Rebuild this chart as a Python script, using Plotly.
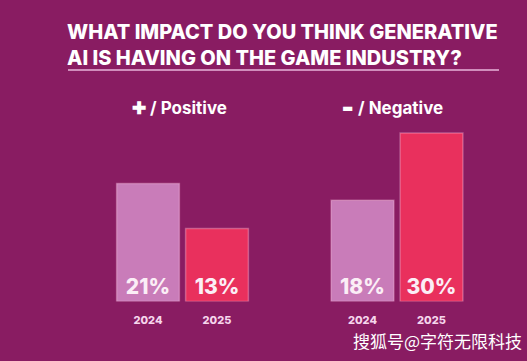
import plotly.graph_objects as go
from plotly.subplots import make_subplots

years = ["2024", "2025"]
positive = [21, 13]
negative = [18, 30]
title_lines = ["WHAT IMPACT DO YOU THINK GENERATIVE", "AI IS HAVING ON THE GAME INDUSTRY?"]
group_icons = ["✚", "▬"]
group_labels = ["/ Positive", "/ Negative"]
watermark = "搜狐号@字符无限科技"

W, H = 527, 361
BG = "#891c62"
C2024 = "#c97cb9"
C2025 = "#e9305d"
FONT = "Inter"

fig = make_subplots(rows=1, cols=2)

def px_x(p):
    return p / W

def px_y(p):
    return 1 - p / H

for col, vals in ((1, positive), (2, negative)):
    fig.add_trace(go.Bar(
        x=years, y=vals,
        marker=dict(color=[C2024, C2025], line=dict(color="rgba(255,200,230,0.35)", width=1.5)),
        width=0.91,
        text=[f"{v}%" for v in vals],
        textposition="inside", insidetextanchor="start",
        textfont=dict(family=FONT, size=21, color="#fbeef6", weight=800),
        textangle=0,
        showlegend=False, hoverinfo="skip",
    ), row=1, col=col)

ydom = [px_y(301.5), px_y(120)]
yrange = [0, (301.5 - 120) / 5.62]
fig.update_layout(
    xaxis=dict(domain=[px_x(113.5), px_x(251.5)]),
    xaxis2=dict(domain=[px_x(328), px_x(466)]),
    yaxis=dict(domain=ydom, range=yrange),
    yaxis2=dict(domain=ydom, range=yrange),
)
fig.update_xaxes(showgrid=False, zeroline=False, showline=False,
                 ticks="outside", ticklen=8, tickcolor="rgba(0,0,0,0)",
                 tickfont=dict(family=FONT, size=11, color="#f6d6ec", weight=800),
                 fixedrange=True)
fig.update_yaxes(visible=False, showgrid=False, zeroline=False, fixedrange=True)

fig.add_annotation(
    text="<br>".join(title_lines), xref="paper", yref="paper",
    x=px_x(65), y=px_y(18), xanchor="left", yanchor="top", align="left",
    showarrow=False, font=dict(family=FONT, size=20, color="#ffffff", weight=800),
)
fig.add_shape(type="line", xref="paper", yref="paper",
              x0=px_x(68), x1=px_x(499), y0=px_y(70), y1=px_y(70),
              line=dict(color="#e9b5db", width=1.5))

# Positive header (icon inline)
fig.add_annotation(
    text=group_icons[0] + " " + group_labels[0], xref="paper", yref="paper",
    x=px_x(130), y=px_y(108), xanchor="left", yanchor="middle", showarrow=False,
    font=dict(family=FONT, size=17, color="#ffffff", weight=700),
)
# Negative header: icon separately for a short thick bar
fig.add_annotation(
    text=group_icons[1], xref="paper", yref="paper", x=px_x(347.5), y=px_y(108),
    xanchor="center", yanchor="middle", showarrow=False,
    font=dict(family="DejaVu Sans", size=12, color="#ffffff", weight=700),
)
fig.add_annotation(
    text=group_labels[1], xref="paper", yref="paper", x=px_x(356), y=px_y(108),
    xanchor="left", yanchor="middle", showarrow=False,
    font=dict(family=FONT, size=17, color="#ffffff", weight=700),
)

fig.add_annotation(
    text=watermark, xref="paper", yref="paper", x=px_x(524), y=px_y(340),
    xanchor="right", yanchor="middle", showarrow=False,
    font=dict(family="Noto Sans CJK SC", size=17, color="#ffffff"),
)

fig.update_layout(
    width=W, height=H, margin=dict(l=0, r=0, t=0, b=0),
    paper_bgcolor=BG, plot_bgcolor=BG, bargap=0.08,
)

fig.write_html("out.html", config={"displayModeBar": False},
               post_script="document.body.style.margin='0';document.body.style.overflow='hidden';")
